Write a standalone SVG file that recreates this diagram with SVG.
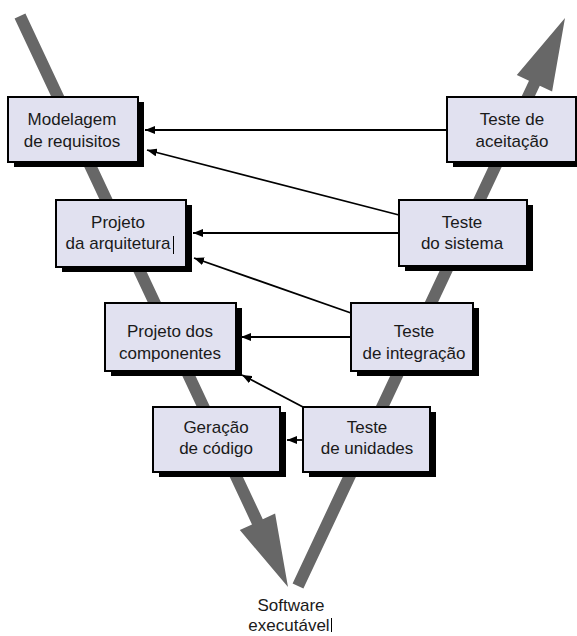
<svg xmlns="http://www.w3.org/2000/svg" width="577" height="636" viewBox="0 0 577 636">
  <defs>
    <style>
      .bar { fill: #676767; }
      .shadow { fill: #000; }
      .box { fill: #e1e1f0; stroke: #000; stroke-width: 2; }
      .lbl { font-family: "Liberation Sans", Arial, sans-serif; font-size: 17px; fill: #1a1a1a; text-anchor: middle; }
      .conn { stroke: #000; stroke-width: 1.8; fill: none; marker-end: url(#arr); }
      .caret { stroke: #000; stroke-width: 1; }
    </style>
    <marker id="arr" viewBox="0 0 10 8" refX="10" refY="4" markerWidth="10" markerHeight="8" markerUnits="userSpaceOnUse" orient="auto">
      <path d="M0,0 L10,4 L0,8 Z" fill="#000"/>
    </marker>
  </defs>
  <rect width="577" height="636" fill="#fff"/>

  <g id="v-bars">
    <polygon class="bar" points="14.6,18.5 25.4,13.5 262.8,519.2 275.1,513.5 288,587 239.8,530.1 252.0,524.4"/>
    <polygon class="bar" points="292.6,583.4 303.4,588.6 539.8,85.8 552.1,91.5 565,18 516.8,74.9 529.0,80.7"/>
  </g>

  <g id="connectors">
    <line class="conn" x1="447" y1="130" x2="145" y2="130"/>
    <line class="conn" x1="399" y1="215" x2="147" y2="150"/>
    <line class="conn" x1="399" y1="233" x2="193" y2="233"/>
    <line class="conn" x1="351" y1="313" x2="194" y2="258"/>
    <line class="conn" x1="351" y1="337" x2="241" y2="337"/>
    <line class="conn" x1="303" y1="407" x2="242" y2="375"/>
    <line class="conn" x1="303" y1="440" x2="287" y2="440"/>
  </g>

  <g id="modelagem">
    <rect class="shadow" x="14" y="102" width="130" height="65"/>
    <rect class="box" x="8" y="97" width="130" height="65"/>
    <text class="lbl" x="72" y="125">Modelagem</text>
    <text class="lbl" x="72" y="147">de requisitos</text>
  </g>

  <g id="teste-aceitacao">
    <rect class="shadow" x="453" y="102" width="129" height="65"/>
    <rect class="box" x="447" y="97" width="129" height="65"/>
    <text class="lbl" x="512" y="125">Teste de</text>
    <text class="lbl" x="512" y="147">aceitação</text>
  </g>

  <g id="projeto-arquitetura">
    <rect class="shadow" x="62" y="205" width="130" height="67"/>
    <rect class="box" x="56" y="200" width="130" height="67"/>
    <text class="lbl" x="118" y="228">Projeto</text>
    <text class="lbl" x="118" y="249">da arquitetura</text>
    <line class="caret" x1="173.5" y1="236" x2="173.5" y2="254"/>
  </g>

  <g id="teste-sistema">
    <rect class="shadow" x="405" y="205" width="128" height="66"/>
    <rect class="box" x="399" y="200" width="128" height="66"/>
    <text class="lbl" x="462" y="228">Teste</text>
    <text class="lbl" x="462" y="249">do sistema</text>
  </g>

  <g id="projeto-componentes">
    <rect class="shadow" x="111" y="308" width="131" height="68"/>
    <rect class="box" x="105" y="303" width="131" height="68"/>
    <text class="lbl" x="170" y="337">Projeto dos</text>
    <text class="lbl" x="170" y="359">componentes</text>
  </g>

  <g id="teste-integracao">
    <rect class="shadow" x="357" y="308" width="122" height="68"/>
    <rect class="box" x="351" y="303" width="122" height="68"/>
    <text class="lbl" x="414" y="337">Teste</text>
    <text class="lbl" x="414" y="359">de integração</text>
  </g>

  <g id="geracao-codigo">
    <rect class="shadow" x="159" y="412" width="127" height="65"/>
    <rect class="box" x="153" y="407" width="127" height="65"/>
    <text class="lbl" x="216" y="433">Geração</text>
    <text class="lbl" x="216" y="454">de código</text>
  </g>

  <g id="teste-unidades">
    <rect class="shadow" x="309" y="412" width="127" height="65"/>
    <rect class="box" x="303" y="407" width="127" height="65"/>
    <text class="lbl" x="367" y="433">Teste</text>
    <text class="lbl" x="367" y="454">de unidades</text>
  </g>

  <g id="software-executavel">
    <text class="lbl" x="291" y="611">Software</text>
    <text class="lbl" x="289" y="631">executável</text>
    <line class="caret" x1="331.5" y1="618" x2="331.5" y2="632"/>
  </g>
</svg>
